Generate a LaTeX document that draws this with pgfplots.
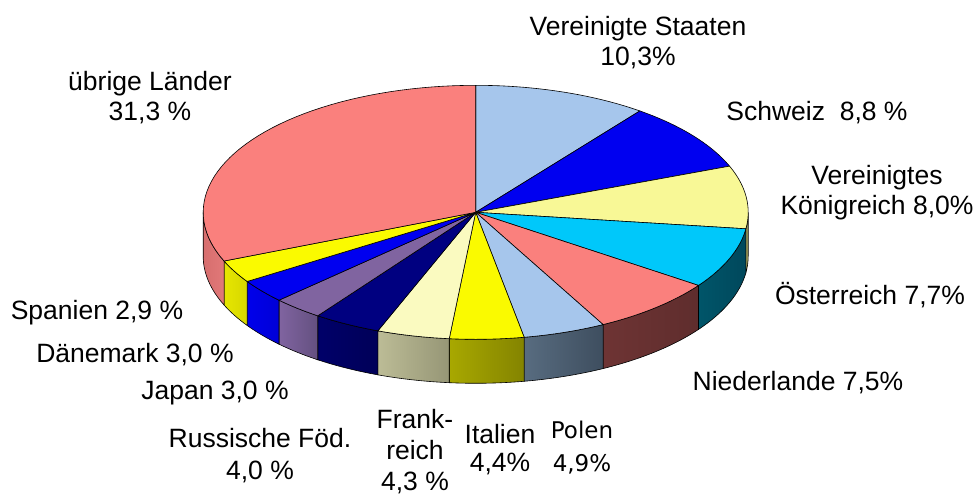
\documentclass[border=0pt]{standalone}
\usepackage{fontspec}
\setmainfont{Liberation Sans}
\newfontfamily\polenfont{DejaVu Sans}
\usepackage{pgfplots}
\pgfplotsset{compat=1.18}
% top colours
\definecolor{usT}{RGB}{166,198,236}
\definecolor{chT}{RGB}{0,0,240}
\definecolor{vkT}{RGB}{248,248,150}
\definecolor{oeT}{RGB}{0,200,250}
\definecolor{nlT}{RGB}{250,128,125}
\definecolor{plT}{RGB}{166,198,236}
\definecolor{itT}{RGB}{250,250,0}
\definecolor{frT}{RGB}{250,250,192}
\definecolor{ruT}{RGB}{0,0,128}
\definecolor{jpT}{RGB}{128,100,160}
\definecolor{dkT}{RGB}{0,0,240}
\definecolor{esT}{RGB}{250,250,0}
\definecolor{ubT}{RGB}{250,128,125}
% side colours (left, right)
\definecolor{vkS1}{RGB}{170,170,100}\definecolor{vkS2}{RGB}{140,140,80}
\definecolor{oeS1}{RGB}{0,85,105}\definecolor{oeS2}{RGB}{0,72,92}
\definecolor{nlS1}{RGB}{110,52,52}\definecolor{nlS2}{RGB}{95,45,45}
\definecolor{plS1}{RGB}{88,108,128}\definecolor{plS2}{RGB}{62,78,95}
\definecolor{itS1}{RGB}{168,168,0}\definecolor{itS2}{RGB}{132,132,0}
\definecolor{frS1}{RGB}{188,188,150}\definecolor{frS2}{RGB}{150,150,118}
\definecolor{ruS1}{RGB}{0,0,105}\definecolor{ruS2}{RGB}{0,0,88}
\definecolor{jpS1}{RGB}{128,100,160}\definecolor{jpS2}{RGB}{100,80,128}
\definecolor{dkS1}{RGB}{0,0,235}\definecolor{dkS2}{RGB}{0,0,215}
\definecolor{esS1}{RGB}{230,230,0}\definecolor{esS2}{RGB}{215,215,0}
\definecolor{ubS1}{RGB}{215,110,110}\definecolor{ubS2}{RGB}{225,120,120}

\tikzset{lab/.style={font=\fontsize{26.5}{30}\selectfont, align=center, inner sep=0pt}}

% top face of a slice from angle #1 down to angle #2
\newcommand\topslice[3]{%
 \addplot[fill=#3, draw=black, line width=0.6pt, domain=#2:#1, samples=50, variable=\t]
  ({\cx+\rx*cos(\t)}, {\cy-\ry*sin(\t)}) -- (axis cs:\cx,\cy) -- cycle;
}
% front wall of a slice from angle #1 down to angle #2
\newcommand\sideslice[4]{%
 \addplot[draw=black, line width=0.6pt, left color=#3, right color=#4, domain=#2:#1, samples=40, variable=\t]
  ({\cx+\rx*cos(\t)}, {\cy-\ry*sin(\t)})
  -- (axis cs:{\cx+\rx*cos(#1)},{\cy-\ry*sin(#1)+\dep})
  arc[start angle=#1, end angle=#2, x radius=\rx pt, y radius=\ry pt] -- cycle;
}

\def\cx{475.7}\def\cy{212.3}\def\rx{272.5}\def\ry{127}\def\dep{44}
% shares in percent (sum 100.1)
\pgfmathsetmacro\f{360/100.1}
\pgfmathsetmacro\Aa{90}
\pgfmathsetmacro\Ab{\Aa-\f*10.3}% Vereinigte Staaten
\pgfmathsetmacro\Ac{\Ab-\f*8.8}% Schweiz
\pgfmathsetmacro\Ad{\Ac-\f*8.0}% Vereinigtes Koenigreich
\pgfmathsetmacro\Ae{\Ad-\f*7.7}% Oesterreich
\pgfmathsetmacro\Af{\Ae-\f*7.5}% Niederlande
\pgfmathsetmacro\Ag{\Af-\f*4.9}% Polen
\pgfmathsetmacro\Ah{\Ag-\f*4.4}% Italien
\pgfmathsetmacro\Ai{\Ah-\f*4.3}% Frankreich
\pgfmathsetmacro\Aj{\Ai-\f*4.0}% Russische Foed.
\pgfmathsetmacro\Ak{\Aj-\f*3.0}% Japan
\pgfmathsetmacro\Al{\Ak-\f*3.0}% Daenemark
\pgfmathsetmacro\Am{\Al-\f*2.9}% Spanien
\pgfmathsetmacro\An{\Am-\f*31.3}% uebrige Laender

\begin{document}%
\begin{tikzpicture}
\begin{axis}[scale only axis, width=978pt, height=496pt,
  xmin=0, xmax=978, ymin=0, ymax=496, y dir=reverse,
  hide axis, clip=false]
% side walls
\sideslice{0}{\Ad}{vkS1}{vkS2}
\sideslice{\Ad}{\Ae}{oeS1}{oeS2}
\sideslice{\Ae}{\Af}{nlS1}{nlS2}
\sideslice{\Af}{\Ag}{plS1}{plS2}
\sideslice{\Ag}{\Ah}{itS1}{itS2}
\sideslice{\Ah}{\Ai}{frS1}{frS2}
\sideslice{\Ai}{\Aj}{ruS1}{ruS2}
\sideslice{\Aj}{\Ak}{jpS1}{jpS2}
\sideslice{\Ak}{\Al}{dkS1}{dkS2}
\sideslice{\Al}{\Am}{esS1}{esS2}
\sideslice{\Am}{-180}{ubS1}{ubS2}
% top faces
\topslice{\Aa}{\Ab}{usT}
\topslice{\Ab}{\Ac}{chT}
\topslice{\Ac}{\Ad}{vkT}
\topslice{\Ad}{\Ae}{oeT}
\topslice{\Ae}{\Af}{nlT}
\topslice{\Af}{\Ag}{plT}
\topslice{\Ag}{\Ah}{itT}
\topslice{\Ah}{\Ai}{frT}
\topslice{\Ai}{\Aj}{ruT}
\topslice{\Aj}{\Ak}{jpT}
\topslice{\Ak}{\Al}{dkT}
\topslice{\Al}{\Am}{esT}
\topslice{\Am}{\An}{ubT}
% labels
\node[lab] at (axis cs:638,43) {Vereinigte Staaten\\10,3\%};
\node[lab] at (axis cs:817,113) {Schweiz\ \ 8,8 \%};
\node[lab] at (axis cs:877,193) {Vereinigtes\\Königreich 8,0\%};
\node[lab] at (axis cs:870,295) {Österreich 7,7\%};
\node[lab] at (axis cs:798,383) {Niederlande 7,5\%};
\node[lab, font=\polenfont\fontsize{23}{33}\selectfont] at (axis cs:582,448) {Polen\\4,9\%};
\node[lab, font=\fontsize{26.5}{28}\selectfont] at (axis cs:500,450) {Italien\\4,4\%};
\node[lab, font=\fontsize{26.5}{31}\selectfont] at (axis cs:415,452) {Frank-\\reich\\4,3 \%};
\node[lab, font=\fontsize{26.5}{32}\selectfont] at (axis cs:260,456) {Russische Föd.\\4,0 \%};
\node[lab] at (axis cs:215,393) {Japan 3,0 \%};
\node[lab] at (axis cs:135,355) {Dänemark 3,0 \%};
\node[lab] at (axis cs:97,313) {Spanien 2,9 \%};
\node[lab] at (axis cs:150,98) {übrige Länder\\31,3 \%};
\end{axis}
\pgfresetboundingbox
\useasboundingbox (0,0) rectangle (978pt,496pt);
\end{tikzpicture}%
\end{document}
